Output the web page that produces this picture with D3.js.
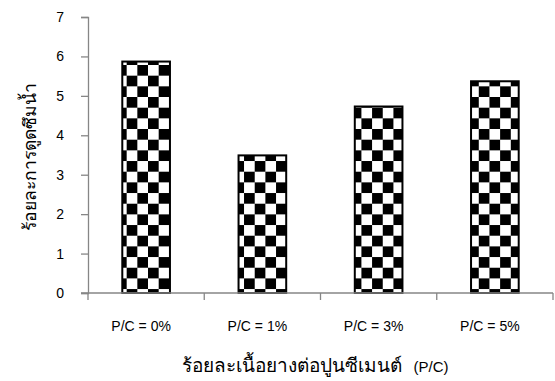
<!DOCTYPE html>
<html>
<head>
<meta charset="utf-8">
<script src="https://cdn.jsdelivr.net/npm/d3@7/dist/d3.min.js"></script>
<style>
  html, body { margin: 0; padding: 0; background: #fff; }
  svg { display: block; }
  text { font-family: "Liberation Sans", Arial, sans-serif; fill: #000; }
</style>
</head>
<body>
<svg id="chart" width="555" height="381"></svg>
<script>
// Water absorption (%) by rubber-to-cement ratio
const categories = ["P/C = 0%", "P/C = 1%", "P/C = 3%", "P/C = 5%"];
const absorption = [5.87, 3.49, 4.73, 5.37];
const yTicks = [0, 1, 2, 3, 4, 5, 6, 7];
const xTitleThai = "ร้อยละเนื้อยางต่อปูนซีเมนต์";
const xTitleUnit = "(P/C)";
const yTitle = "ร้อยละการดูดซึมน้ำ";

const svg = d3.select("#chart");
const margin = { left: 88, right: 2, top: 17, bottom: 88 };
const W = 555, H = 381;

const x = d3.scaleBand()
  .domain(categories)
  .range([margin.left, W - margin.right])
  .paddingInner(0.59)
  .paddingOuter(0.295);

const y = d3.scaleLinear()
  .domain([0, 7])
  .range([H - margin.bottom, margin.top]);

// checkerboard fill
const cell = 10.67;
const defs = svg.append("defs");
const pat = defs.append("pattern")
  .attr("id", "checker")
  .attr("patternUnits", "userSpaceOnUse")
  .attr("width", cell * 2)
  .attr("height", cell * 2)
  .attr("x", 116)
  .attr("y", 65);
pat.append("rect").attr("width", cell * 2).attr("height", cell * 2).attr("fill", "#fff");
pat.append("rect").attr("x", 0).attr("y", 0).attr("width", cell).attr("height", cell).attr("fill", "#000");
pat.append("rect").attr("x", cell).attr("y", cell).attr("width", cell).attr("height", cell).attr("fill", "#000");

const axisColor = "#868686";

// Y axis
const yAxis = svg.append("g")
  .attr("transform", `translate(${margin.left},0)`)
  .call(d3.axisLeft(y).tickValues(yTicks).tickSize(7).tickPadding(17).tickFormat(d3.format("d")));
yAxis.select(".domain").attr("stroke", axisColor).attr("stroke-width", 1.3);
yAxis.selectAll(".tick line").attr("stroke", axisColor).attr("stroke-width", 1.3);
yAxis.selectAll(".tick text").attr("font-size", 14).attr("font-family", "Liberation Sans, Arial, sans-serif");

// bars
svg.append("g").selectAll("rect")
  .data(categories)
  .join("rect")
  .attr("x", d => x(d))
  .attr("width", x.bandwidth())
  .attr("y", (d, i) => y(absorption[i]))
  .attr("height", (d, i) => y(0) - y(absorption[i]))
  .attr("fill", "url(#checker)")
  .attr("stroke", "#000")
  .attr("stroke-width", 2);

// X axis with ticks on band boundaries
const xg = svg.append("g").attr("transform", `translate(0,${y(0)})`);
const step = x.step();
const bounds = d3.range(categories.length + 1).map(i => margin.left + i * step);
xg.append("line")
  .attr("x1", margin.left - 7).attr("x2", W - margin.right)
  .attr("stroke", axisColor).attr("stroke-width", 1.3);
xg.selectAll("line.tk").data(bounds).join("line")
  .attr("class", "tk")
  .attr("x1", d => d).attr("x2", d => d)
  .attr("y1", 0).attr("y2", 7)
  .attr("stroke", axisColor).attr("stroke-width", 1.3);
xg.selectAll("text").data(categories).join("text")
  .attr("x", d => x(d) + x.bandwidth() / 2 - 5)
  .attr("y", 38)
  .attr("text-anchor", "middle")
  .attr("font-size", 14)
  .text(d => d);

// axis titles
const xt = svg.append("text")
  .attr("x", 315).attr("y", 372)
  .attr("text-anchor", "middle");
xt.append("tspan").attr("font-size", 19).text(xTitleThai);
xt.append("tspan").attr("font-size", 15).attr("dx", 12).text(xTitleUnit);

svg.append("text")
  .attr("transform", "translate(36,157) rotate(-90)")
  .attr("text-anchor", "middle")
  .attr("font-size", 17.5)
  .text(yTitle);
</script>
</body>
</html>
